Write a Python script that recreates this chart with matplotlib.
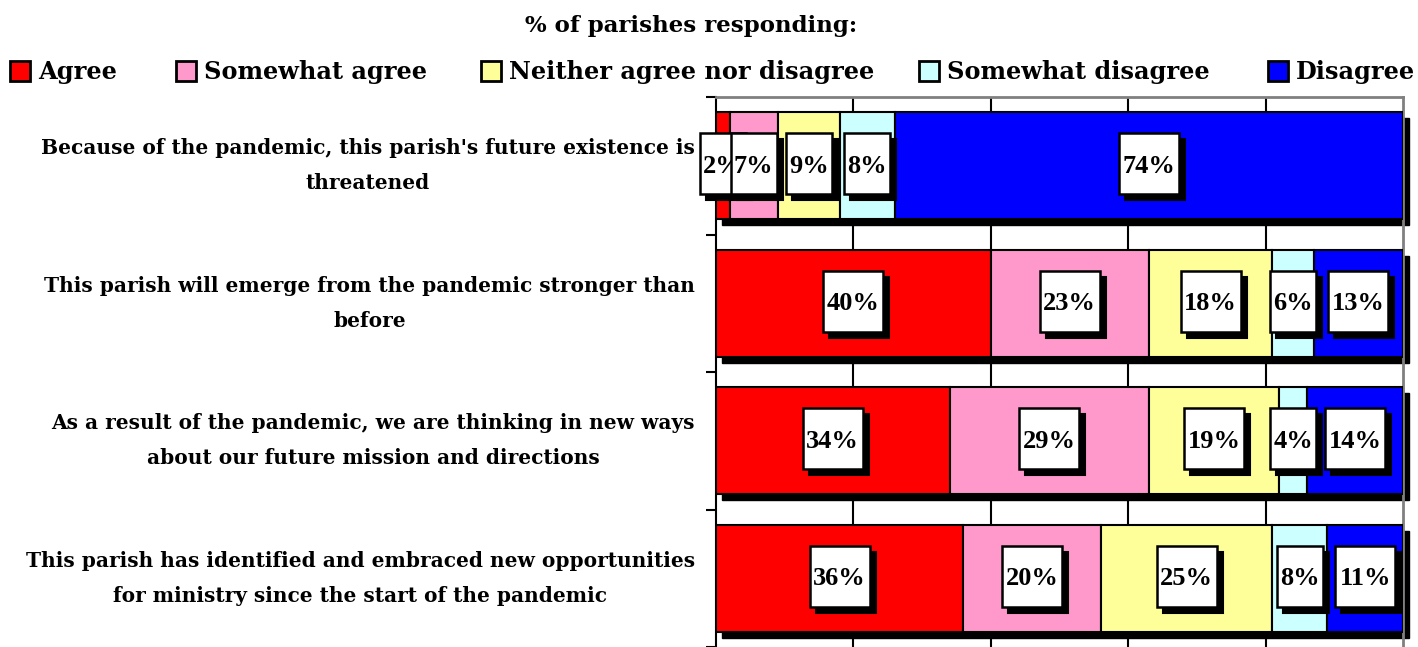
import matplotlib
matplotlib.use('Agg')
import matplotlib.pyplot as plt
from matplotlib.patches import Rectangle
import matplotlib.transforms as mtransforms

categories = [
    "Because of the pandemic, this parish's future existence is\nthreatened",
    "This parish will emerge from the pandemic stronger than\nbefore",
    "As a result of the pandemic, we are thinking in new ways\nabout our future mission and directions",
    "This parish has identified and embraced new opportunities\nfor ministry since the start of the pandemic",
]
series_names = ["Agree", "Somewhat agree", "Neither agree nor disagree",
                "Somewhat disagree", "Disagree"]
agree = [2, 40, 34, 36]
somewhat_agree = [7, 23, 29, 20]
neither = [9, 18, 19, 25]
somewhat_disagree = [8, 6, 4, 8]
disagree = [74, 13, 14, 11]
colors = ["#FF0000", "#FF99CC", "#FFFF99", "#CCFFFF", "#0000FF"]
series = [agree, somewhat_agree, neither, somewhat_disagree, disagree]

FONT = "DejaVu Serif"
LFONT = "Liberation Serif"
W, H = 1418, 647
fig = plt.figure(figsize=(W / 100, H / 100), dpi=100)
ax_top, ax_left, ax_right = 97, 716, 1403
ax = fig.add_axes([ax_left / W, 0, (ax_right - ax_left) / W, (H - ax_top) / H])
ax.set_xlim(0, 100)
ax.set_ylim(3.5, -0.5)

px_x = (ax_right - ax_left) / 100.0   # pixels per x unit
px_y = (H - ax_top) / 4.0             # pixels per y unit

# gridlines
for gx in [20, 40, 60, 80]:
    ax.axvline(gx, color="black", lw=1.5, zorder=1)

bar_h = 0.78
ypos = list(range(len(categories)))
shadow_tr = mtransforms.offset_copy(ax.transData, fig=fig, x=6, y=-6, units="dots")

# bar shadows
totals = [sum(s[i] for s in series) for i in ypos]
ax.barh(ypos, totals, height=bar_h, color="black", edgecolor="black",
        transform=shadow_tr, zorder=2, clip_on=False)

# stacked bars
left = [0] * len(ypos)
for vals, col in zip(series, colors):
    ax.barh(ypos, vals, left=left, height=bar_h, color=col,
            edgecolor="black", lw=1.5, zorder=3)
    left = [l + v for l, v in zip(left, vals)]

# data labels in boxes with shadows
z = 10
for i in ypos:
    start = 0
    for vals in series:
        v = vals[i]
        cx = start + v / 2.0
        start += v
        txt = f"{v}%"
        wpx = 18 + 14 * len(txt)
        hpx = 61
        w = wpx / px_x
        h = hpx / px_y
        cy = i - 2 / px_y
        ax.add_patch(Rectangle((cx - w / 2, cy - h / 2), w, h, facecolor="black",
                               edgecolor="black", lw=1.5, transform=shadow_tr,
                               zorder=z, clip_on=False))
        ax.add_patch(Rectangle((cx - w / 2, cy - h / 2), w, h, facecolor="white",
                               edgecolor="black", lw=1.8, zorder=z + 1,
                               clip_on=False))
        ax.text(cx, cy + 9 / px_y, txt, ha="center", va="baseline",
                fontsize=19, fontweight="bold", family=LFONT, zorder=z + 2)
        z += 3

# spines
ax.spines["top"].set_color("#808080")
ax.spines["top"].set_linewidth(2)
ax.spines["right"].set_color("#808080")
ax.spines["right"].set_linewidth(2)
ax.spines["left"].set_color("black")
ax.spines["left"].set_linewidth(1.5)
ax.spines["bottom"].set_visible(False)

ax.set_xticks([])
ax.set_yticks(ypos)
ax.set_yticks([-0.5, 0.5, 1.5, 2.5, 3.5], minor=True)
ax.set_yticklabels([""] * len(ypos))
ax.tick_params(axis="y", which="major", length=0)
ax.tick_params(axis="y", which="minor", length=7, width=1.5, direction="out",
               color="black")

# category labels (right edge at a fixed offset from the axis)
lab_tr = mtransforms.offset_copy(ax.transData, fig=fig, x=-21, y=0, units="dots")
for i, cat in zip(ypos, categories):
    ax.text(0, i, cat, transform=lab_tr, ha="right", va="center",
            multialignment="center", fontsize=14.5, fontweight="bold",
            family=FONT, linespacing=1.95, clip_on=False)

# title
fig.text(691 / W, 1 - 32 / H, "% of parishes responding:", ha="center",
         va="baseline", fontsize=16.5, fontweight="bold", family=FONT)

# legend
sq_x = [10, 176, 481, 919, 1268]
for name, col, sx in zip(series_names, colors, sq_x):
    fig.patches.append(Rectangle((sx / W, 1 - 81 / H), 20 / W, 20 / H,
                                 facecolor=col, edgecolor="black", lw=2,
                                 transform=fig.transFigure, figure=fig))
    fig.text((sx + 28) / W, 1 - 79 / H, name, ha="left", va="baseline",
             fontsize=17.3, fontweight="bold", family=FONT)

fig.savefig("out.png", dpi=100)
